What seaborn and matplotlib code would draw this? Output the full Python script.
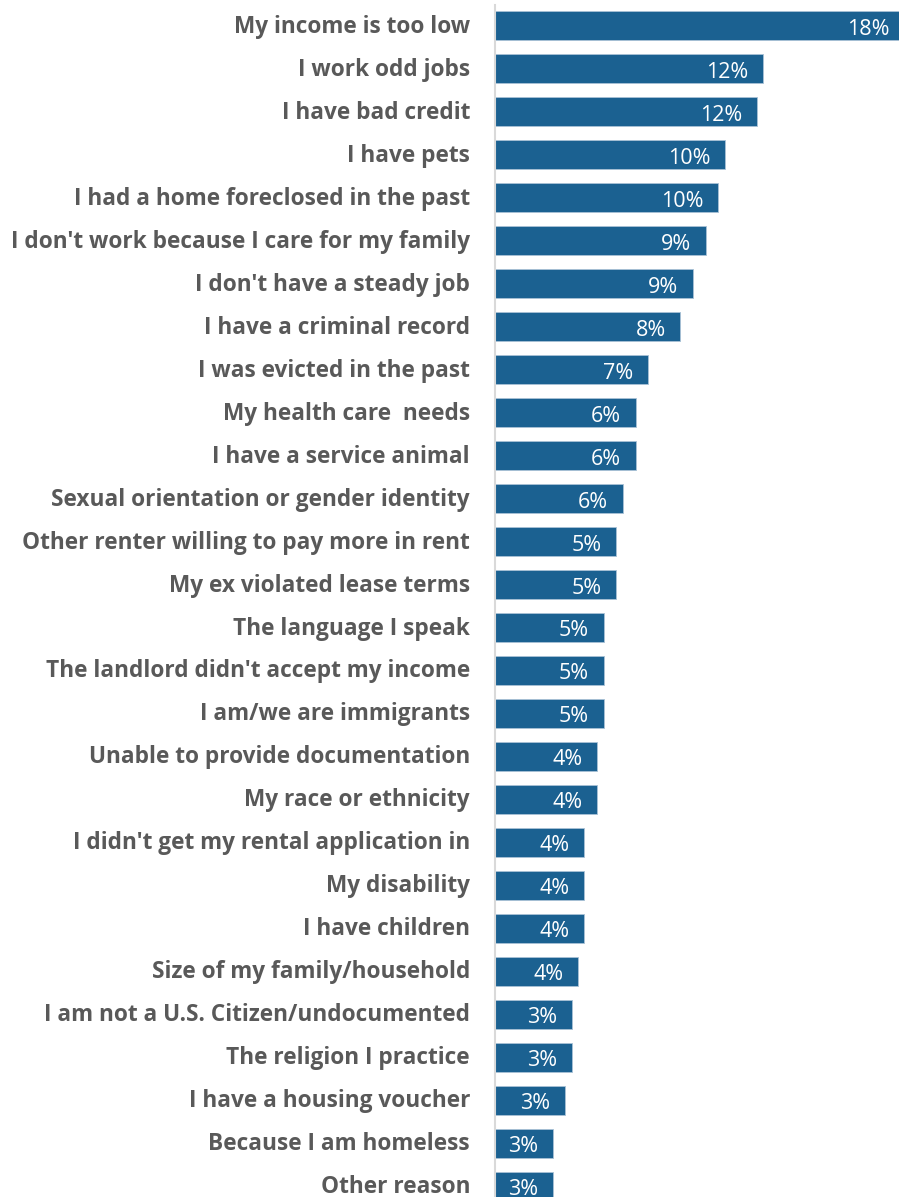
import pandas as pd
import matplotlib.pyplot as plt
import matplotlib.transforms as mtransforms
import seaborn as sns

sns.set_style("white")
plt.rcParams['font.family'] = ['Open Sans', 'DejaVu Sans']

reasons = [
    "My income is too low",
    "I work odd jobs",
    "I have bad credit",
    "I have pets",
    "I had a home foreclosed in the past",
    "I don't work because I care for my family",
    "I don't have a steady job",
    "I have a criminal record",
    "I was evicted in the past",
    "My health care  needs",
    "I have a service animal",
    "Sexual orientation or gender identity",
    "Other renter willing to pay more in rent",
    "My ex violated lease terms",
    "The language I speak",
    "The landlord didn't accept my income",
    "I am/we are immigrants",
    "Unable to provide documentation",
    "My race or ethnicity",
    "I didn't get my rental application in",
    "My disability",
    "I have children",
    "Size of my family/household",
    "I am not a U.S. Citizen/undocumented",
    "The religion I practice",
    "I have a housing voucher",
    "Because I am homeless",
    "Other reason",
]

# share of respondents, in percent
shares = [17.98, 11.80, 11.52, 10.11, 9.83, 9.27, 8.71, 8.15, 6.74, 6.18,
          6.18, 5.62, 5.34, 5.34, 4.78, 4.78, 4.78, 4.49, 4.49, 3.93,
          3.93, 3.93, 3.65, 3.37, 3.37, 3.09, 2.53, 2.53]

df = pd.DataFrame({"reason": reasons, "share": shares})

bar_color = "#1b6191"
label_color = "#595959"

fig = plt.figure(figsize=(8.99, 11.97), dpi=100)
ax = fig.add_axes([495 / 899, 0, 1 - 495 / 899, 1])

sns.barplot(data=df, x="share", y="reason", orient="h", color=bar_color,
            saturation=1, width=0.665, edgecolor="#a9c2d6", linewidth=0.6, ax=ax)

# value labels inside the bars, right aligned
for i, v in enumerate(df["share"]):
    ax.annotate(f"{v:.0f}%", xy=(v, i), xytext=(-10.5, -2.5), textcoords="offset points",
                ha="right", va="center", color="white", fontsize=15.5,
                annotation_clip=False)

ax.set_xlim(0, 17.77)
ax.set_ylim(27.25, -0.60)
ax.set_xlabel("")
ax.set_ylabel("")
ax.set_xticks([])
ax.tick_params(axis="y", length=0, pad=18, labelsize=16.3, labelcolor=label_color)

# nudge category labels up a little
shift = mtransforms.ScaledTranslation(0, 2 / 100, fig.dpi_scale_trans)
for lbl in ax.get_yticklabels():
    lbl.set_fontweight("bold")
    lbl.set_transform(lbl.get_transform() + shift)

for side in ["top", "right", "bottom"]:
    ax.spines[side].set_visible(False)
ax.spines["left"].set_color("#d9d9d9")
ax.spines["left"].set_linewidth(1.5)
ax.spines["left"].set_bounds(27.25, -0.48)

fig.savefig("out.png", dpi=100)
